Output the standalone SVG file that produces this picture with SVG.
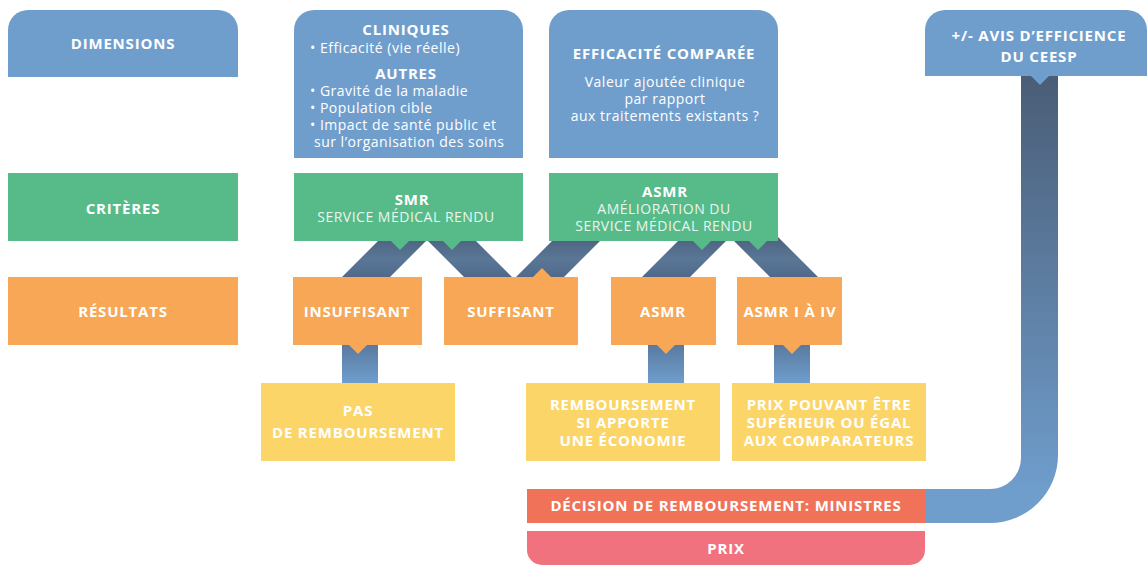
<svg xmlns="http://www.w3.org/2000/svg" width="1147" height="565" viewBox="0 0 1147 565">
<defs>
<style>
.blue{fill:#6f9ecd}
.green{fill:#56bb89}
.orange{fill:#f7a755}
.yellow{fill:#fcd569}
.t{font-family:"Open Sans","Liberation Sans",sans-serif;fill:#ffffff;text-anchor:middle}
.b{font-weight:700;font-size:15px;letter-spacing:0.8px}
.r{font-weight:400;font-size:14px;letter-spacing:0.5px}
.l{text-anchor:start}
.sub{fill:#eaf6ef}
</style>
<linearGradient id="gBig" gradientUnits="userSpaceOnUse" x1="0" y1="76" x2="0" y2="490">
<stop offset="0" stop-color="#4a5d76"/>
<stop offset="1" stop-color="#6f9dcc"/>
</linearGradient>
<linearGradient id="gSmall" gradientUnits="userSpaceOnUse" x1="0" y1="345" x2="0" y2="383">
<stop offset="0" stop-color="#5a7aa0"/>
<stop offset="1" stop-color="#6f9ecd"/>
</linearGradient>
<linearGradient id="gBand" gradientUnits="userSpaceOnUse" x1="0" y1="241" x2="0" y2="277">
<stop offset="0" stop-color="#4e6683"/>
<stop offset="0.5" stop-color="#5a7796"/>
<stop offset="1" stop-color="#50698a"/>
</linearGradient>
</defs>

<g id="connectors">
<polygon fill="url(#gBand)" points="383,236 431,236 385,282 337,282"/>
<polygon fill="url(#gBand)" points="423,236 471,236 517,282 469,282"/>
<polygon fill="url(#gBand)" points="557,236 605,236 559,282 511,282"/>
<polygon fill="url(#gBand)" points="683,236 731,236 685,282 637,282"/>
<polygon fill="url(#gBand)" points="729,236 777,236 823,282 775,282"/>
<rect x="342" y="340" width="36" height="48" fill="url(#gSmall)"/>
<rect x="648" y="340" width="36" height="48" fill="url(#gSmall)"/>
<rect x="774" y="340" width="36" height="48" fill="url(#gSmall)"/>
<path fill="url(#gBig)" d="M1021,70 H1058 V455 A68,68 0 0 1 990,523 H920 V489 H990 A31,31 0 0 0 1021,458 Z"/>
</g>

<g id="dimensions">
<path class="blue" d="M8,77 V30 A20,20 0 0 1 28,10 H218 A20,20 0 0 1 238,30 V77 Z"/>
<text class="t b" x="123" y="49">DIMENSIONS</text>
</g>

<g id="cliniques">
<path class="blue" d="M294,158 V30 A20,20 0 0 1 314,10 H503 A20,20 0 0 1 523,30 V158 Z"/>
<text class="t b" x="406" y="35">CLINIQUES</text>
<text class="t r l" x="310" y="53">• Efficacité (vie réelle)</text>
<text class="t b" x="406" y="79">AUTRES</text>
<text class="t r l" x="310" y="96">• Gravité de la maladie</text>
<text class="t r l" x="310" y="113">• Population cible</text>
<text class="t r l" x="310" y="130">• Impact de santé public et</text>
<text class="t r l" x="314" y="147">sur l’organisation des soins</text>
</g>

<g id="efficacite">
<path class="blue" d="M549,158 V30 A20,20 0 0 1 569,10 H758 A20,20 0 0 1 778,30 V158 Z"/>
<text class="t b" x="664" y="59">EFFICACITÉ COMPARÉE</text>
<text class="t r" x="665" y="87">Valeur ajoutée clinique</text>
<text class="t r" x="665" y="104">par rapport</text>
<text class="t r" x="665" y="121">aux traitements existants ?</text>
</g>

<g id="avis">
<path class="blue" d="M925,76 V30 A20,20 0 0 1 945,10 H1127 A20,20 0 0 1 1147,30 V76 Z"/>
<polygon class="blue" points="1031,76 1049,76 1040,85"/>
<text class="t b" x="1039" y="41">+/- AVIS D’EFFICIENCE</text>
<text class="t b" x="1039" y="62">DU CEESP</text>
</g>

<g id="criteres">
<rect class="green" x="8" y="173" width="230" height="68"/>
<text class="t b" x="123" y="214">CRITÈRES</text>
</g>

<g id="smr">
<rect class="green" x="294" y="173" width="229" height="68"/>
<polygon class="green" points="391,241 409,241 400,250"/>
<polygon class="green" points="443,241 461,241 452,250"/>
<text class="t b" x="412" y="205">SMR</text>
<text class="t r sub" x="406" y="222">SERVICE MÉDICAL RENDU</text>
</g>

<g id="asmr-critere">
<rect class="green" x="549" y="173" width="229" height="68"/>
<polygon class="green" points="693,241 711,241 702,250"/>
<polygon class="green" points="749,241 767,241 758,250"/>
<text class="t b" x="665" y="197">ASMR</text>
<text class="t r sub" x="664" y="214">AMÉLIORATION DU</text>
<text class="t r sub" x="664" y="231">SERVICE MÉDICAL RENDU</text>
</g>

<g id="resultats">
<rect class="orange" x="8" y="277" width="230" height="68"/>
<text class="t b" x="123" y="317">RÉSULTATS</text>
</g>

<g id="insuffisant">
<rect class="orange" x="293" y="277" width="129" height="68"/>
<polygon class="orange" points="349,345 367,345 358,354"/>
<text class="t b" x="357" y="317">INSUFFISANT</text>
</g>

<g id="suffisant">
<rect class="orange" x="444" y="277" width="134" height="68"/>
<polygon class="orange" points="533,277 551,277 542,268"/>
<text class="t b" x="511" y="317">SUFFISANT</text>
</g>

<g id="asmr-resultat">
<rect class="orange" x="611" y="277" width="105" height="68"/>
<polygon class="orange" points="657,345 675,345 666,354"/>
<text class="t b" x="663" y="317">ASMR</text>
</g>

<g id="asmr-i-iv">
<rect class="orange" x="737" y="277" width="105" height="68"/>
<polygon class="orange" points="783,345 801,345 792,354"/>
<text class="t b" x="790" y="317">ASMR I À IV</text>
</g>

<g id="pas-remboursement">
<rect class="yellow" x="261" y="383" width="194" height="78"/>
<text class="t b" x="358" y="416">PAS</text>
<text class="t b" x="358" y="438">DE REMBOURSEMENT</text>
</g>

<g id="remboursement-economie">
<rect class="yellow" x="526" y="383" width="194" height="78"/>
<text class="t b" x="623" y="410">REMBOURSEMENT</text>
<text class="t b" x="623" y="428">SI APPORTE</text>
<text class="t b" x="623" y="446">UNE ÉCONOMIE</text>
</g>

<g id="prix-comparateurs">
<rect class="yellow" x="732" y="383" width="194" height="78"/>
<text class="t b" x="829" y="410">PRIX POUVANT ÊTRE</text>
<text class="t b" x="829" y="428">SUPÉRIEUR OU ÉGAL</text>
<text class="t b" x="829" y="446">AUX COMPARATEURS</text>
</g>

<g id="decision">
<rect x="527" y="489" width="398" height="34" fill="#f07359"/>
<text class="t b" x="726" y="511">DÉCISION DE REMBOURSEMENT: MINISTRES</text>
</g>

<g id="prix">
<path fill="#f0727e" d="M527,531 H925 V550 A15,15 0 0 1 910,565 H542 A15,15 0 0 1 527,550 Z"/>
<text class="t b" x="726" y="554">PRIX</text>
</g>
</svg>
